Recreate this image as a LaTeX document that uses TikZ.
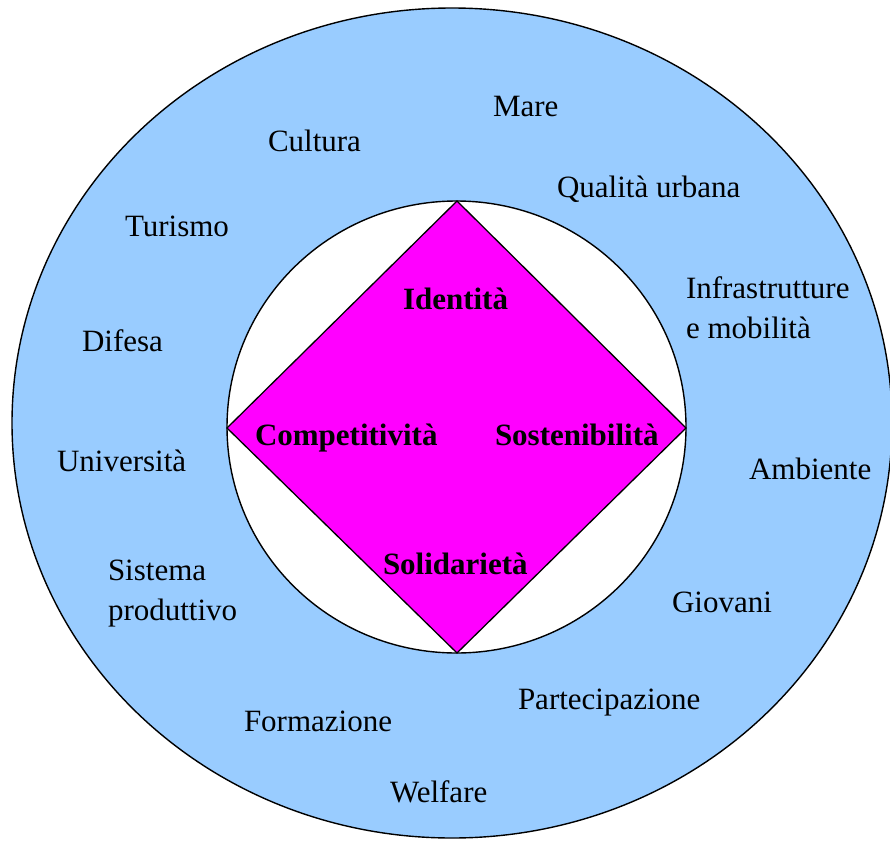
\documentclass[tikz,border=0pt]{standalone}
\usepackage{fontspec}
\setmainfont{Liberation Serif}
\usetikzlibrary{shapes.geometric}
\definecolor{outerblue}{HTML}{99CCFF}
\definecolor{diamondmag}{HTML}{FF00FF}
\begin{document}
\begin{tikzpicture}[x=1pt,y=-1pt,
  lbl/.style={anchor=base west,inner sep=0pt,outer sep=0pt,font=\fontsize{31}{40}\selectfont,align=left},
  blbl/.style={lbl,font=\fontsize{31}{40}\selectfont\bfseries},
  ring/.style={draw=black,line width=1.4pt}]
\useasboundingbox (0,0) rectangle (890,840);
\fill[white] (0,0) rectangle (890,840);
\draw[ring,fill=outerblue] (452,423) ellipse [x radius=440, y radius=415];
\draw[ring,fill=white] (456.5,427) ellipse [x radius=229.5, y radius=226];
\coordinate (dt) at (457,201);
\coordinate (dl) at (227,428);
\coordinate (dr) at (686,428);
\coordinate (db) at (457,653);
\draw[line width=1.3pt,fill=diamondmag,line join=miter] (dt) -- (dr) -- (db) -- (dl) -- cycle;

\node[lbl] (mare) at (493,117) {Mare};
\node[lbl] (cultura) at (268,151) {Cultura};
\node[lbl] (qualita) at (557,197) {Qualità urbana};
\node[lbl] (turismo) at (125,236) {Turismo};
\node[lbl] (infra) at (686,338) {Infrastrutture\\e mobilità};
\node[lbl] (difesa) at (82,351) {Difesa};
\node[lbl] (univ) at (57,471) {Università};
\node[lbl] (amb) at (749,479) {Ambiente};
\node[lbl] (sist) at (108,620) {Sistema\\produttivo};
\node[lbl] (giov) at (672,612) {Giovani};
\node[lbl] (part) at (518,709) {Partecipazione};
\node[lbl] (form) at (244,731) {Formazione};
\node[lbl] (welf) at (390,802) {Welfare};

\node[blbl] (ident) at (403,309) {Identità};
\node[blbl] (comp) at (255,445) {Competitività};
\node[blbl] (sost) at (495,445) {Sostenibilità};
\node[blbl] (solid) at (383,574) {Solidarietà};
\end{tikzpicture}
\end{document}
